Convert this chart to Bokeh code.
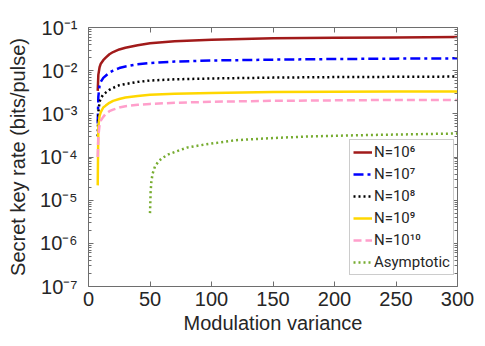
from bokeh.plotting import figure
from bokeh.models import (LinearAxis, LogAxis, FixedTicker, CustomJSTickFormatter,
                          Legend, LegendItem, Range1d)
from bokeh.embed import file_html
from bokeh.resources import INLINE

# ---- data ----
x_n = [7.5, 8, 9, 10, 12, 14, 17, 20, 25, 30, 40, 50, 70, 100, 150, 200, 250, 300]
y_n6 = [3.4e-3, 8e-3, 1.2e-2, 1.45e-2, 1.75e-2, 2.0e-2, 2.4e-2, 2.7e-2, 3.1e-2, 3.4e-2,
        3.9e-2, 4.3e-2, 4.8e-2, 5.2e-2, 5.6e-2, 5.8e-2, 5.9e-2, 6.0e-2]
y_n7 = [6e-4, 2.5e-3, 4.5e-3, 5.5e-3, 6.8e-3, 7.6e-3, 9e-3, 1.0e-2, 1.15e-2, 1.25e-2,
        1.4e-2, 1.5e-2, 1.62e-2, 1.72e-2, 1.8e-2, 1.86e-2, 1.9e-2, 1.93e-2]
y_n8 = [3e-4, 1.1e-3, 1.9e-3, 2.3e-3, 2.8e-3, 3.1e-3, 3.6e-3, 4.0e-3, 4.6e-3, 4.9e-3,
        5.5e-3, 5.9e-3, 6.3e-3, 6.6e-3, 6.9e-3, 7.1e-3, 7.2e-3, 7.3e-3]
y_n9 = [2.2e-5, 5e-4, 9e-4, 1.1e-3, 1.4e-3, 1.55e-3, 1.8e-3, 2.0e-3, 2.2e-3, 2.4e-3,
        2.6e-3, 2.75e-3, 2.9e-3, 3.05e-3, 3.2e-3, 3.25e-3, 3.3e-3, 3.3e-3]
y_n10 = [1e-4, 3e-4, 5.5e-4, 7e-4, 8.5e-4, 1.0e-3, 1.15e-3, 1.25e-3, 1.4e-3, 1.5e-3,
         1.62e-3, 1.7e-3, 1.8e-3, 1.9e-3, 2.0e-3, 2.05e-3, 2.1e-3, 2.1e-3]
x_asym = [50, 50.5, 51, 52, 54, 57, 60, 65, 70, 80, 90, 100, 120, 150, 180, 220, 260, 300]
y_asym = [5e-6, 1.5e-5, 2.5e-5, 4e-5, 6e-5, 8e-5, 9.5e-5, 1.15e-4, 1.3e-4, 1.65e-4,
          1.85e-4, 2.05e-4, 2.45e-4, 2.75e-4, 3.0e-4, 3.2e-4, 3.35e-4, 3.5e-4]

labels = ["N=10\u2076", "N=10\u2077", "N=10\u2078", "N=10\u2079", "N=10\u00b9\u2070", "Asymptotic"]
x_ticks = [0, 50, 100, 150, 200, 250, 300]
y_ticks = [1e-7, 1e-6, 1e-5, 1e-4, 1e-3, 1e-2, 1e-1]
y_minor = [m * 10.0 ** k for k in range(-7, -1) for m in range(2, 10)]

FONT = "Liberation Sans"
TXT = "#262626"
AX = "#6e6e6e"

p = figure(width=484, height=345, output_backend="svg", toolbar_location=None,
           y_axis_type="log", x_range=Range1d(0, 300), y_range=Range1d(1e-7, 1e-1),
           min_border_left=88, min_border_top=27, min_border_right=27, min_border_bottom=59)
p.xgrid.visible = False
p.ygrid.visible = False
p.outline_line_color = None
p.background_fill_color = "white"
p.border_fill_color = "white"

sup_code = """
const sup = {'0':'\u2070','1':'\u00b9','2':'\u00b2','3':'\u00b3','4':'\u2074','5':'\u2075',
             '6':'\u2076','7':'\u2077','8':'\u2078','9':'\u2079','-':'\u207b'};
const e = Math.round(Math.log10(tick));
return '10' + String(e).split('').map(c => sup[c]).join('');
"""

xa = p.xaxis[0]
xa.ticker = FixedTicker(ticks=x_ticks)
ya = p.yaxis[0]
ya.ticker = FixedTicker(ticks=y_ticks, minor_ticks=y_minor)
ya.formatter = CustomJSTickFormatter(code=sup_code)

for ax in (xa, ya):
    ax.axis_line_color = AX
    ax.major_tick_line_color = AX
    ax.minor_tick_line_color = AX
    ax.major_tick_in = 5
    ax.major_tick_out = 0
    ax.minor_tick_in = 3
    ax.minor_tick_out = 0
    ax.major_label_text_font = FONT
    ax.major_label_text_color = TXT
    ax.axis_label_text_font = FONT
    ax.axis_label_text_font_size = "20px"
    ax.axis_label_text_font_style = "normal"
    ax.axis_label_text_color = TXT
xa.major_label_text_font_size = "20px"
ya.major_label_text_font_size = "20px"
xa.minor_tick_line_color = None
xa.axis_label = "Modulation variance"
ya.axis_label = "Secret key rate (bits/pulse)"
xa.major_label_standoff = 5
xa.axis_label_standoff = 3
ya.major_label_standoff = 11
ya.axis_label_standoff = 8

blank = CustomJSTickFormatter(code="return ''")
top = LinearAxis(ticker=FixedTicker(ticks=x_ticks), formatter=blank)
right = LogAxis(ticker=FixedTicker(ticks=y_ticks, minor_ticks=y_minor), formatter=blank)
for ax in (top, right):
    ax.axis_line_color = AX
    ax.major_tick_line_color = AX
    ax.minor_tick_line_color = AX
    ax.major_tick_in = 5
    ax.major_tick_out = 0
    ax.minor_tick_in = 3
    ax.minor_tick_out = 0
    ax.major_label_text_font_size = "1px"
    ax.major_label_standoff = 0
top.minor_tick_line_color = None
p.add_layout(top, "above")
p.add_layout(right, "right")

series = [
    (x_n, y_n6, "#A11A1A", "solid"),
    (x_n, y_n7, "#0000FF", "10 4 3 4"),
    (x_n, y_n8, "#000000", "2 3"),
    (x_n, y_n9, "#FFD700", "solid"),
    (x_n, y_n10, "#FF9FCB", "8 4"),
    (x_asym, y_asym, "#77AC30", "2 3"),
]
items = []
for (xs, ys, col, dash), lab in zip(series, labels):
    r = p.line(xs, ys, line_color=col, line_width=2.5, line_dash=dash)
    items.append(LegendItem(label=lab, renderers=[r]))

legend = Legend(items=items, location=(261, 11))
legend.label_text_font = "Roboto"
legend.label_text_font_size = "15px"
legend.label_text_color = TXT
legend.glyph_width = 19
legend.glyph_height = 18
legend.label_height = 18
legend.label_standoff = 2
legend.spacing = 4
legend.padding = 3
legend.margin = 0
legend.border_line_color = "#9a9a9a"
legend.border_line_width = 1
legend.background_fill_color = "white"
legend.background_fill_alpha = 1
p.add_layout(legend, "center")

open("out.html", "w").write(file_html(p, INLINE))
